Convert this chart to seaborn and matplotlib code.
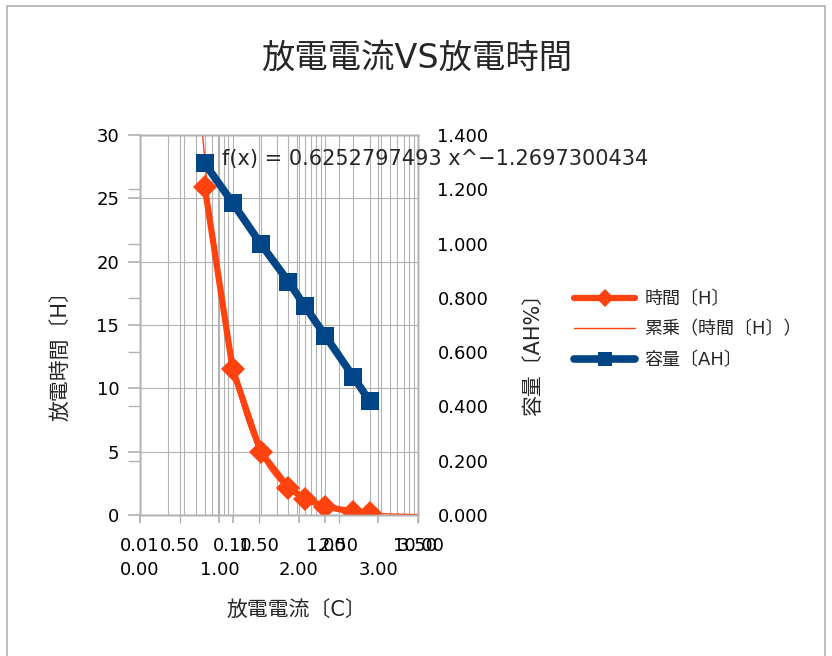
import numpy as np
import pandas as pd
import matplotlib
matplotlib.use("Agg")
import matplotlib.pyplot as plt
import matplotlib.patches as mpatches
import seaborn as sns

# ---- data ----
current_c = [0.05, 0.1, 0.2, 0.4, 0.6, 1.0, 2.0, 3.0]
time_h = [25.9, 11.5, 5.0, 2.15, 1.28, 0.66, 0.255, 0.14]
capacity_ah = [1.295, 1.15, 1.0, 0.86, 0.77, 0.66, 0.51, 0.42]
fit_a = 0.6252797493
fit_b = -1.2697300434
log_ticks = [0.01, 0.1, 1, 10]
log_tick_labels = ["0.01", "0.10", "1.00", "10.00"]
lin_major = [0, 1, 2, 3]
lin_minor = [0.5, 1.5, 2.5, 3.5]
left_ticks = [0, 5, 10, 15, 20, 25, 30]
right_ticks = [0.0, 0.2, 0.4, 0.6, 0.8, 1.0, 1.2, 1.4]

sns.set_theme(style="white")
plt.rcParams['font.family'] = ['DejaVu Sans', 'Noto Sans CJK JP']
plt.rcParams['axes.unicode_minus'] = True

ORANGE = "#ff420e"
BLUE = "#004586"
GRID = "#b3b3b3"

W, H = 832, 656
fig = plt.figure(figsize=(W / 100, H / 100), dpi=100)
fig.patch.set_facecolor("white")

L, R, T, B = 140, 418, 135, 515
rect = [L / W, 1 - B / H, (R - L) / W, (B - T) / H]
ax = fig.add_axes(rect)
ax3 = ax.twiny()
ax2 = ax.twinx()

# layer: ax3 (background + linear grid) below ax
ax3.set_zorder(0)
ax.set_zorder(1)
ax2.set_zorder(2)
ax.patch.set_visible(False)
ax3.patch.set_facecolor("white")

df = pd.DataFrame({"current": current_c, "time": time_h, "cap": capacity_ah})
xfit = np.logspace(-2, 1, 300)
dfit = pd.DataFrame({"x": xfit, "y": fit_a * xfit ** fit_b})

sns.lineplot(data=dfit, x="x", y="y", ax=ax, color=ORANGE, linewidth=1.0,
             sort=False, label="累乗（時間〔H〕）", legend=False)
sns.lineplot(data=df, x="current", y="time", ax=ax, color=ORANGE, linewidth=4.5,
             marker="D", markersize=12, markeredgewidth=0, sort=False,
             label="時間〔H〕", legend=False)
sns.lineplot(data=df, x="current", y="cap", ax=ax2, color=BLUE, linewidth=5.5,
             marker="s", markersize=13, markeredgewidth=0, sort=False,
             label="容量〔AH〕", legend=False)

ax.set_xscale("log")
ax.set_xlim(0.01, 10)
ax.set_ylim(0, 30)
ax2.set_ylim(0, 1.4)
ax3.set_xlim(0, 3.5)

for a in (ax, ax2, ax3):
    a.set_xlabel("")
    a.set_ylabel("")
    for s in a.spines.values():
        s.set_color(GRID)
        s.set_linewidth(1.0)

# log x axis
ax.set_xticks(log_ticks)
ax.set_xticklabels(log_tick_labels)
ax.xaxis.set_minor_formatter(matplotlib.ticker.NullFormatter())
ax.tick_params(axis="x", which="major", length=6, color=GRID, pad=10,
               labelsize=13, labelcolor="black", direction="out", bottom=True)
ax.tick_params(axis="x", which="minor", length=0, bottom=True)
ax.grid(True, axis="x", which="both", color=GRID, linewidth=0.8)
ax.grid(True, axis="y", which="major", color=GRID, linewidth=0.8)

# left y
ax.set_yticks(left_ticks)
ax.set_yticks([v * 30 / 1.4 for v in right_ticks[1:-1]], minor=True)
ax.tick_params(axis="y", which="both", length=9, color=GRID, direction="out",
               left=True, labelsize=13, labelcolor="black", pad=6)
ax.tick_params(axis="y", which="minor", labelleft=False)
ax.grid(False, axis="y", which="minor")

# right y
ax2.set_yticks(right_ticks)
ax2.set_yticklabels([f"{v:.3f}" for v in right_ticks])
ax2.tick_params(axis="y", length=0, pad=14, labelsize=13, labelcolor="black", right=True)
ax2.grid(False)

# linear x axis at bottom
ax3.xaxis.set_ticks_position("bottom")
ax3.xaxis.set_label_position("bottom")
ax3.set_xticks(lin_major)
ax3.set_xticklabels([f"{v:.2f}" for v in lin_major])
ax3.set_xticks(lin_minor, minor=True)
ax3.set_xticklabels([f"{v:.2f}" for v in lin_minor], minor=True)
ax3.tick_params(axis="x", which="major", length=6, color=GRID, pad=27,
                labelsize=13, labelcolor="black", direction="out", bottom=True, top=False)
ax3.tick_params(axis="x", which="minor", length=6, color=GRID, pad=10,
                labelsize=13, labelcolor="black", direction="out", bottom=True, top=False)
ax3.grid(True, axis="x", which="both", color=GRID, linewidth=0.8)
ax3.grid(False, axis="y")

# texts
fig.text(417 / W, 1 - 58 / H, "放電電流VS放電時間", ha="center", va="center", fontsize=24)
fig.text(60 / W, 1 - 351 / H, "放電時間〔H〕", ha="center", va="center", rotation=90, fontsize=15)
fig.text(533 / W, 1 - 349 / H, "容量〔AH%〕", ha="center", va="center", rotation=90, fontsize=15)
fig.text(296 / W, 1 - 610 / H, "放電電流〔C〕", ha="center", va="center", fontsize=15)
fig.text(222 / W, 1 - 159 / H, f"f(x) = {fit_a:.10f} x^−{abs(fit_b):.10f}",
         ha="left", va="center", fontsize=15)

# legend
h1, l1 = ax.get_legend_handles_labels()
h2, l2 = ax2.get_legend_handles_labels()
handles = [h1[1], h1[0], h2[0]]
labels = [l1[1], l1[0], l2[0]]
fig.legend(handles, labels, loc="upper left", bbox_to_anchor=(574 / W, 1 - 290 / H),
           frameon=False, fontsize=13, handlelength=3.4, labelspacing=0.7,
           handletextpad=0.5, markerscale=0.8, borderaxespad=0, borderpad=0)

# outer border
fig.patches.append(mpatches.Rectangle((7 / W, -0.01), (825 - 7) / W, (H - 6) / H + 0.01,
                                      transform=fig.transFigure, fill=False,
                                      edgecolor=GRID, linewidth=1.2, zorder=0))

fig.savefig("out.png", dpi=100)
